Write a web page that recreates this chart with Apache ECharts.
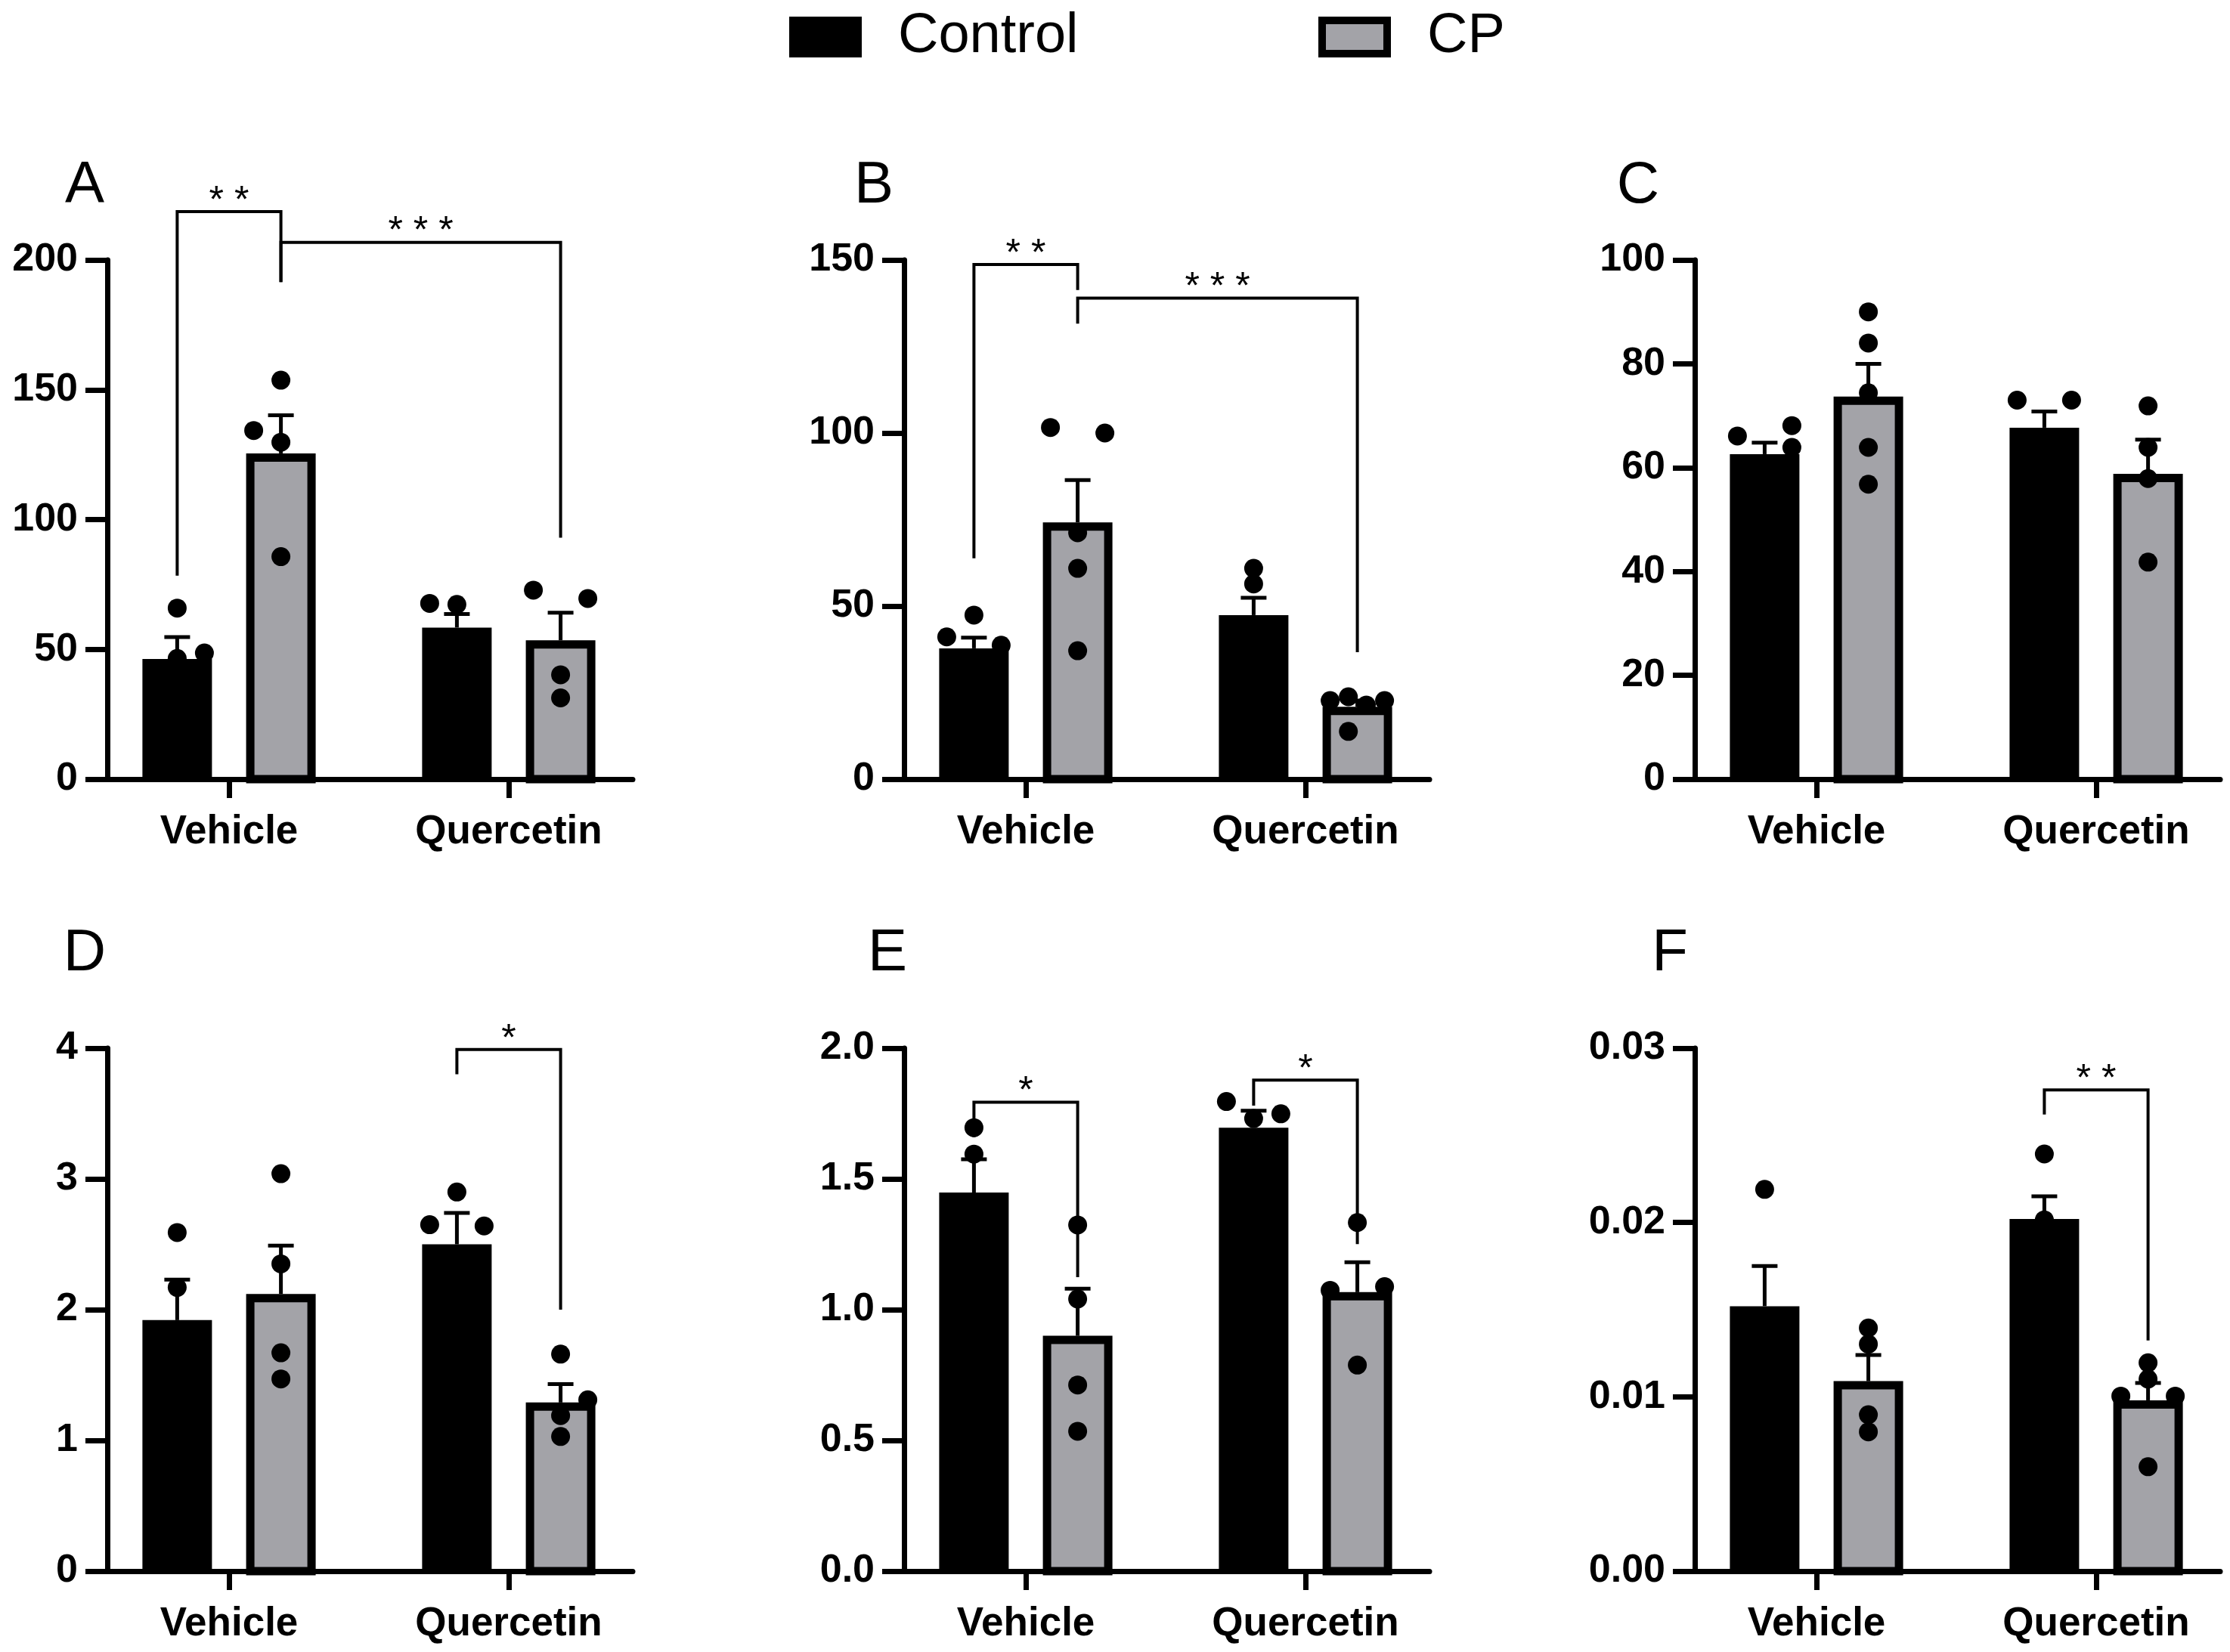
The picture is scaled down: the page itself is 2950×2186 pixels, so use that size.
<!DOCTYPE html>
<html>
<head>
<meta charset="utf-8">
<script src="https://cdn.jsdelivr.net/npm/echarts@6/dist/echarts.min.js"></script>
<style>
  html, body { margin: 0; padding: 0; background: #fff; }
  #main { width: 2950px; height: 2186px; }
</style>
</head>
<body>
<div id="main"></div>
<script>
// categories and groups
var categories = ['Vehicle', 'Quercetin'];
var groups = ['Control', 'CP'];

// values are [category][group]; sem is the upward error bar
// slot = which jitter column a dot sits in (0 = bar centre)
// sig = [cat1, group1, cat2, group2, bracket top, left leg end, right leg end, stars]

// Panel A
var meanA = [[46.3, 125.5], [58.4, 53.5]];
var semA = [[8.4, 14.7], [5.2, 10.6]];
var dotsA = [[[65.9, 46.5, 48.6], [153.7, 134.3, 129.8, 85.7]], [[67.7, 67.3], [72.8, 69.6, 40.2, 31.3]]];
var slotA = [[[0, 0, 1], [0, -1, 0, 0]], [[-1, 0], [-1, 1, 0, 0]]];
var sigA = [[0, 0, 0, 1, 218.6, 78.4, 191.5, '**'], [0, 1, 1, 1, 206.8, 191.5, 93.0, '***']];

// Panel B
var meanB = [[37.8, 74.2], [47.4, 20.9]];
var semB = [[3.1, 12.2], [5.0, 1.8]];
var dotsB = [[[47.4, 41.1, 38.7], [101.6, 100.0, 71.2, 60.9, 37.1]], [[60.9, 56.4], [22.7, 23.8, 21.4, 22.7, 13.8]]];
var slotB = [[[0, -1, 1], [-1, 1, 0, 0, 0]], [[0, 0], [-1, -0.33, 0.33, 1, -0.33]]];
var sigB = [[0, 0, 0, 1, 148.7, 63.8, 141.3, '**'], [0, 1, 1, 1, 139.0, 131.6, 36.7, '***']];

// Panel C
var meanC = [[62.6, 73.7], [67.7, 58.8]];
var semC = [[2.2, 6.3], [3.1, 6.6]];
var dotsC = [[[66.1, 68.1, 63.9], [90.0, 84.0, 74.4, 63.9, 56.8]], [[73.0, 73.0], [71.9, 63.9, 57.9, 41.8]]];
var slotC = [[[-1, 1, 1], [0, 0, 0, 0, 0]], [[-1, 1], [0, 0, 0, 0]]];
var sigC = [];

// Panel D
var meanD = [[1.92, 2.12], [2.50, 1.29]];
var semD = [[0.31, 0.37], [0.24, 0.14]];
var dotsD = [[[2.59, 2.17], [3.04, 2.35, 1.67, 1.47]], [[2.90, 2.65, 2.64], [1.66, 1.31, 1.19, 1.03]]];
var slotD = [[[0, 0], [0, 0, 0, 0]], [[0, -1, 1], [0, 1, 0, 0]]];
var sigD = [[1, 0, 1, 1, 3.99, 3.80, 2.00, '*']];

// Panel E
var meanE = [[1.448, 0.90], [1.696, 1.067]];
var semE = [[0.127, 0.18], [0.065, 0.114]];
var dotsE = [[[1.696, 1.595], [1.324, 1.041, 0.712, 0.535]], [[1.796, 1.731, 1.749], [1.333, 1.074, 1.088, 0.788]]];
var slotE = [[[0, 0], [0, 0, 0, 0]], [[-1, 0, 1], [0, -1, 1, 0]]];
var sigE = [[0, 0, 0, 1, 1.793, 1.66, 1.124, '*'], [1, 0, 1, 1, 1.878, 1.78, 1.251, '*']];

// Panel F
var meanF = [[0.0152, 0.0109], [0.0202, 0.0098]];
var semF = [[0.0023, 0.0015], [0.0013, 0.0010]];
var dotsF = [[[0.0219], [0.01395, 0.01302, 0.00897, 0.00799]], [[0.02393, 0.02015], [0.01195, 0.01102, 0.01004, 0.01004, 0.00599]]];
var slotF = [[[0], [0, 0, 0, 0]], [[0, 0], [0, 0, -1, 1, 0]]];
var sigF = [[1, 0, 1, 1, 0.0276, 0.0262, 0.01323, '**']];

var panels = [
    {label: 'A', mean: meanA, sem: semA, dots: dotsA, slot: slotA, sig: sigA, max: 200, interval: 50, dec: 0},
    {label: 'B', mean: meanB, sem: semB, dots: dotsB, slot: slotB, sig: sigB, max: 150, interval: 50, dec: 0},
    {label: 'C', mean: meanC, sem: semC, dots: dotsC, slot: slotC, sig: sigC, max: 100, interval: 20, dec: 0},
    {label: 'D', mean: meanD, sem: semD, dots: dotsD, slot: slotD, sig: sigD, max: 4, interval: 1, dec: 0},
    {label: 'E', mean: meanE, sem: semE, dots: dotsE, slot: slotE, sig: sigE, max: 2, interval: 0.5, dec: 1},
    {label: 'F', mean: meanF, sem: semF, dots: dotsF, slot: slotF, sig: sigF, max: 0.03, interval: 0.01, dec: 2}
];

// layout
var FONT = "'Liberation Sans', Arial, sans-serif";
var GREY = '#a3a3a8';
var COL_X = [142, 1196, 2242];
var ROW_TOP = [344, 1387];
var ROW_H = [687, 692];
var PLOT_W = 695;
var GROUP_START = 161, GROUP_STEP = 370;
var X_MIN = -GROUP_START / GROUP_STEP;
var X_MAX = (PLOT_W - GROUP_START) / GROUP_STEP;
var BAR_W = 92 / GROUP_STEP;
var BAR_OFF = 68.6 / GROUP_STEP;
var JIT = 36 / GROUP_STEP;
var BORDER = 11;
var LETTER_POS = [[112, 246], [1156, 246], [2167, 246], [112, 1262], [1174, 1262], [2209, 1262]];

function barX(cat, g) {
    return cat + (g ? BAR_OFF : -BAR_OFF);
}

function renderBar(params, api) {
    var cat = api.value(0), g = api.value(1), m = api.value(2), e = api.value(3);
    var xc = barX(cat, g);
    var tl = api.coord([xc - BAR_W / 2, m]);
    var br = api.coord([xc + BAR_W / 2, 0]);
    var cx = api.coord([xc, 0])[0];
    var top = api.coord([xc, m + e])[1];
    var err = {stroke: '#000', lineWidth: 5, fill: null};
    var kids = [
        {type: 'line', shape: {x1: cx, y1: tl[1], x2: cx, y2: top}, style: err},
        {type: 'line', shape: {x1: cx - 17, y1: top, x2: cx + 17, y2: top}, style: err}
    ];
    if (g === 0) {
        kids.push({type: 'rect', shape: {x: tl[0], y: tl[1], width: br[0] - tl[0], height: br[1] - tl[1]},
            style: {fill: '#000'}});
    } else {
        var h = BORDER / 2;
        kids.push({type: 'rect', shape: {x: tl[0] + h, y: tl[1] + h, width: br[0] - tl[0] - BORDER, height: br[1] - tl[1] - h},
            style: {fill: GREY, stroke: '#000', lineWidth: BORDER}});
    }
    return {type: 'group', children: kids};
}

function makeSigRender(sig) {
    return function (params, api) {
        var s = sig[params.dataIndex];
        var x1 = barX(s[0], s[1]), x2 = barX(s[2], s[3]);
        var a = api.coord([x1, s[5]]), b = api.coord([x1, s[4]]);
        var c = api.coord([x2, s[4]]), d = api.coord([x2, s[6]]);
        return {
            type: 'group',
            children: [
                {type: 'polyline', shape: {points: [a, b, c, d]}, style: {stroke: '#000', lineWidth: 4, fill: null}},
                {type: 'text', x: (b[0] + c[0]) / 2, y: b[1] - 13,
                    style: {text: s[7].split('').join(' '), fill: '#000', font: '50px ' + FONT,
                        align: 'center', verticalAlign: 'middle'}}
            ]
        };
    };
}

var grid = [], xAxis = [], yAxis = [], series = [], graphics = [];

panels.forEach(function (p, i) {
    var col = i % 3, row = Math.floor(i / 3);
    grid.push({left: COL_X[col], top: ROW_TOP[row], width: PLOT_W, height: ROW_H[row], containLabel: false});
    xAxis.push({
        gridIndex: i, type: 'value', min: X_MIN, max: X_MAX,
        axisLine: {show: true, onZero: false, lineStyle: {color: '#000', width: 7}},
        axisTick: {show: true, customValues: [0, 1], length: 25, lineStyle: {color: '#000', width: 7}},
        axisLabel: {
            customValues: [0, 1], margin: 44, fontSize: 53, fontWeight: 'bold', color: '#000', fontFamily: FONT,
            formatter: function (v) { return categories[Math.round(v)]; }
        },
        splitLine: {show: false}
    });
    yAxis.push({
        gridIndex: i, type: 'value', min: 0, max: p.max, interval: p.interval,
        axisLine: {show: true, onZero: false, lineStyle: {color: '#000', width: 7}},
        axisTick: {show: true, length: 29, lineStyle: {color: '#000', width: 7}},
        axisLabel: {
            margin: 39, fontSize: 52, fontWeight: 'bold', color: '#000', fontFamily: FONT,
            formatter: function (v) { return Number(v).toFixed(p.dec); }
        },
        splitLine: {show: false}
    });

    groups.forEach(function (name, g) {
        var bars = [];
        var pts = [];
        categories.forEach(function (c, cat) {
            bars.push([cat, g, p.mean[cat][g], p.sem[cat][g]]);
            p.dots[cat][g].forEach(function (v, k) {
                pts.push([barX(cat, g) + p.slot[cat][g][k] * JIT, v]);
            });
        });
        series.push({
            name: name, type: 'custom', xAxisIndex: i, yAxisIndex: i, z: 2,
            itemStyle: {color: g ? GREY : '#000'},
            renderItem: renderBar, data: bars, clip: false, silent: true
        });
        series.push({
            name: name + ' points', type: 'scatter', xAxisIndex: i, yAxisIndex: i, z: 3,
            symbol: 'circle', symbolSize: 25, itemStyle: {color: '#000', opacity: 1},
            data: pts, silent: true, clip: false
        });
    });

    if (p.sig.length) {
        series.push({
            name: 'sig' + i, type: 'custom', xAxisIndex: i, yAxisIndex: i, z: 4, clip: false, silent: true,
            renderItem: makeSigRender(p.sig),
            data: p.sig.map(function (s) { return [s[0], s[4]]; })
        });
    }

    graphics.push({
        type: 'text', x: LETTER_POS[i][0], y: LETTER_POS[i][1],
        style: {text: p.label, fill: '#000', font: '78px ' + FONT, align: 'center', verticalAlign: 'middle'}
    });
});

function legendFor(name, left) {
    return {
        left: left, top: 12, padding: 0, selectedMode: false,
        itemWidth: 86, itemHeight: 44,
        data: [{
            name: name, icon: 'rect',
            itemStyle: {color: name === 'CP' ? GREY : '#000', borderColor: '#000', borderWidth: 10}
        }],
        textStyle: {fontSize: 74, fontFamily: FONT, color: '#000', lineHeight: 44, padding: [0, 0, 0, 48]}
    };
}

var myChart = echarts.init(document.getElementById('main'));
var option = {
    backgroundColor: '#fff',
    animation: false,
    legend: [legendFor('Control', 1044), legendFor('CP', 1744)],
    grid: grid,
    xAxis: xAxis,
    yAxis: yAxis,
    series: series,
    graphic: graphics
};
myChart.setOption(option);
</script>
</body>
</html>
